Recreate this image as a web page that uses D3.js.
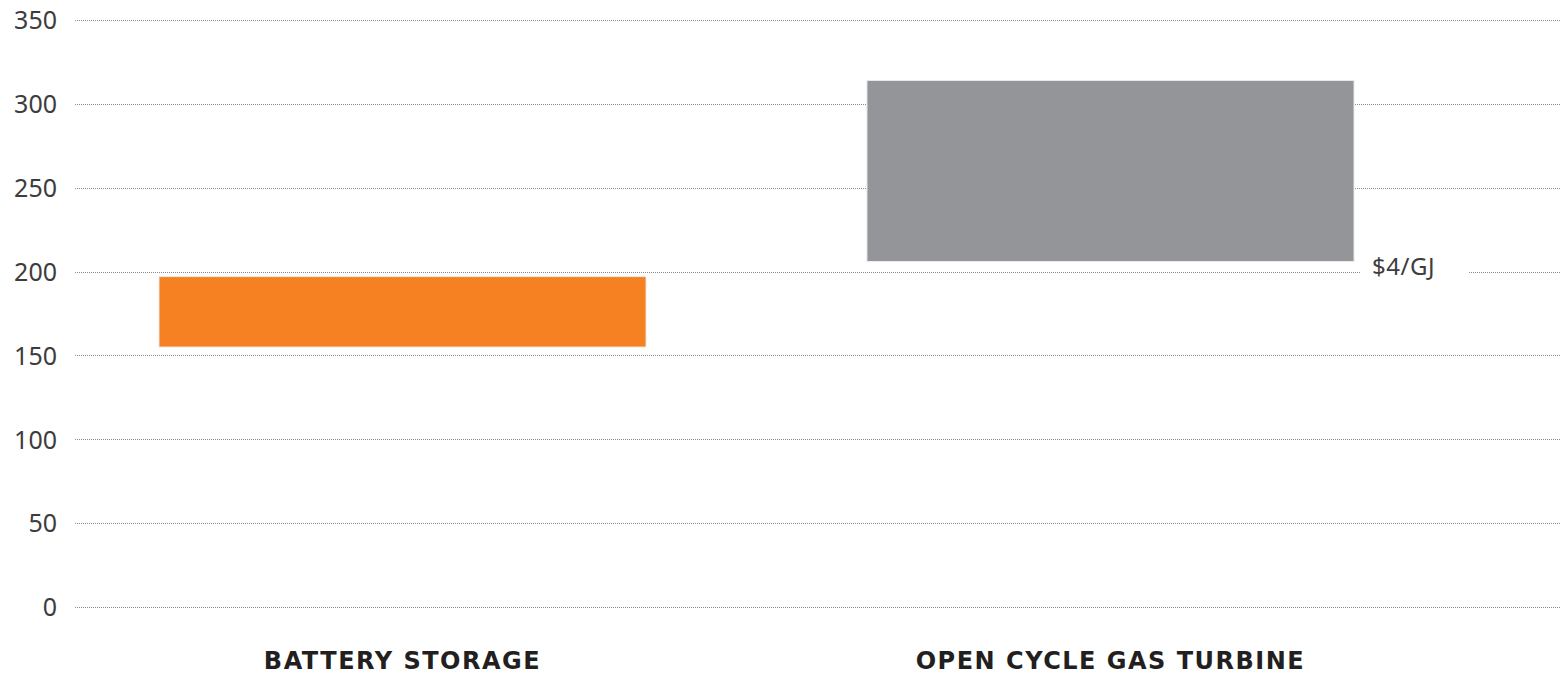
<!DOCTYPE html>
<html><head><meta charset="utf-8">
<script src="https://cdn.jsdelivr.net/npm/d3@7"></script>
<style>body{margin:0;background:#fff}svg{display:block}</style>
</head><body><svg id="c" width="1560" height="675"></svg>
<script>
const categories = ["BATTERY STORAGE", "OPEN CYCLE GAS TURBINE"];
const lowValues = [155, 206];
const highValues = [197, 314];
const colors = ["#f68122", "#939598"];
const tickValues = [0, 50, 100, 150, 200, 250, 300, 350];
const annotation = {text: "$4/GJ", category: "OPEN CYCLE GAS TURBINE", value: 206};

const svg = d3.select("#c");
const y = d3.scaleLinear().domain([0, 350]).range([607, 20]);
const x = d3.scaleBand().domain(categories).range([75, 1438]).paddingInner(0.312).paddingOuter(0.1186);

// gridlines
const grid = svg.append("g");
grid.selectAll("line").data(tickValues).join("line")
  .attr("x1", 75).attr("x2", 1560)
  .attr("y1", d => Math.round(y(d)) + 0.5).attr("y2", d => Math.round(y(d)) + 0.5)
  .attr("stroke", "#8a8a8a").attr("stroke-width", 1).attr("stroke-dasharray", "1,1");

// y axis labels
const yAxis = d3.axisLeft(y).tickValues(tickValues).tickSize(0).tickPadding(0);
const ga = svg.append("g").attr("transform", "translate(57,0)").call(yAxis);
ga.select(".domain").remove();
ga.selectAll("text").attr("font-family", "'Noto Sans', 'Open Sans', sans-serif")
  .attr("font-size", 25).attr("fill", "#3d3d3d").attr("dy", "0.35em");

// bars
const data = categories.map((c, i) => ({c, lo: lowValues[i], hi: highValues[i], col: colors[i]}));
svg.append("g").selectAll("rect").data(data).join("rect")
  .attr("x", d => x(d.c)).attr("width", x.bandwidth())
  .attr("y", d => y(d.hi)).attr("height", d => y(d.lo) - y(d.hi))
  .attr("fill", d => d.col).attr("stroke", "#ececec").attr("stroke-width", 1);

// annotation
const ax = x(annotation.category) + x.bandwidth() + 6;
const ay = y(200);
svg.append("rect").attr("x", ax).attr("y", ay - 16).attr("width", 108).attr("height", 22).attr("fill", "#fff");
svg.append("text").attr("x", ax + 12).attr("y", ay - 5).attr("dy", "0.35em")
  .attr("font-family", "'Noto Sans', 'Open Sans', sans-serif").attr("font-size", 24)
  .attr("letter-spacing", 0.5)
  .attr("fill", "#3d3d3d").text(annotation.text);

// category labels
svg.append("g").selectAll("text").data(categories).join("text")
  .attr("x", d => x(d) + x.bandwidth() / 2).attr("y", 669)
  .attr("text-anchor", "middle")
  .attr("font-family", "'DejaVu Sans', sans-serif").attr("font-weight", "bold")
  .attr("font-size", 24).attr("letter-spacing", 1.5).attr("fill", "#231f20").text(d => d);
</script></body></html>
